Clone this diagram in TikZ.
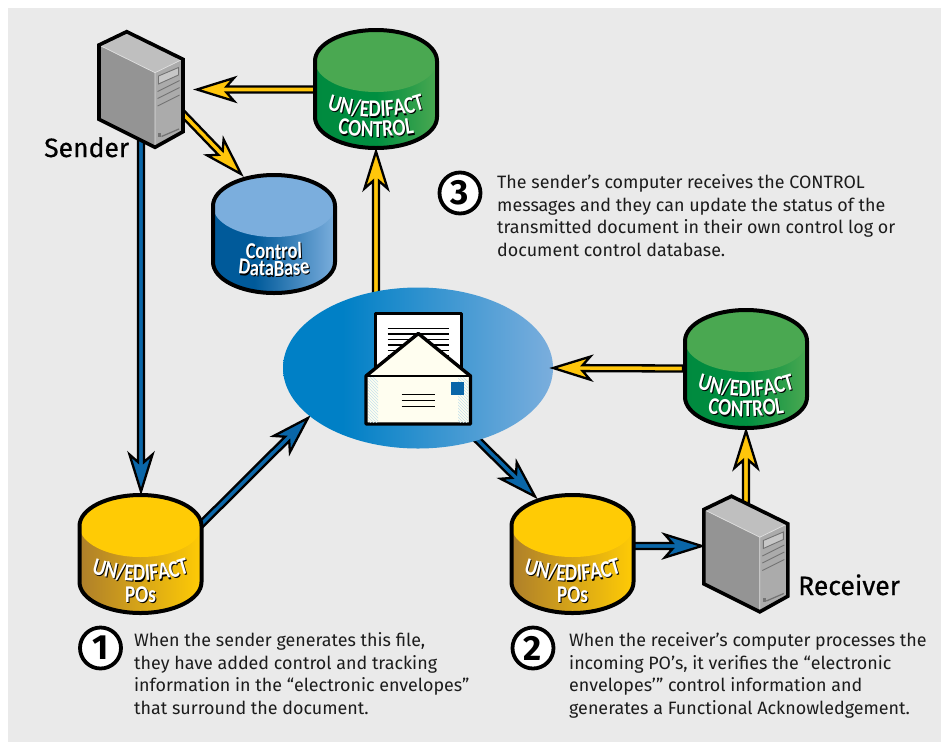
\documentclass[tikz,border=0pt]{standalone}
\usepackage{fontspec}
\setmainfont{Fira Sans}
\newfontfamily\lab{Carlito}[BoldFont={Carlito Bold},FakeStretch=0.8]
\newfontfamily\namefont{Fira Sans}[FakeBold=0.6]
\usetikzlibrary{calc,shapes.geometric,decorations.text}
\definecolor{bggrey}{HTML}{EAEAEA}
\definecolor{arrY}{HTML}{FFC60B}
\definecolor{arrB}{HTML}{0A66A8}
\definecolor{topY}{HTML}{FFCB05}
\definecolor{topG}{HTML}{4AA851}
\definecolor{topB}{HTML}{7BAEDD}
\definecolor{txtk}{HTML}{1C1C1C}
\definecolor{yl}{HTML}{AE7F2A}\definecolor{gl}{HTML}{008A3F}\definecolor{bl}{HTML}{005A9A}
\definecolor{el}{HTML}{0080C6}\definecolor{gm}{HTML}{008F40}
\pgfdeclarehorizontalshading{shY}{100bp}{color(0bp)=(yl);color(25bp)=(yl);color(75bp)=(topY);color(100bp)=(topY)}
\pgfdeclarehorizontalshading{shG}{100bp}{color(0bp)=(gl);color(25bp)=(gl);color(50bp)=(gm);color(75bp)=(topG);color(100bp)=(topG)}
\pgfdeclarehorizontalshading{shB}{100bp}{color(0bp)=(bl);color(25bp)=(bl);color(42bp)=(bl);color(75bp)=(topB);color(100bp)=(topB)}
\pgfdeclarehorizontalshading{shE}{100bp}{color(0bp)=(el);color(25bp)=(el);color(36bp)=(el);color(75bp)=(topB);color(100bp)=(topB)}
\tikzset{
  anchorbox/.style={rectangle,inner sep=0pt,outer sep=0pt,minimum width=#1},
  bodytext/.style={anchor=base west,align=left,inner sep=0pt,text=txtk,font=\fontsize{17.9}{22.5}\selectfont},
  nameplate/.style={anchor=base west,inner sep=0pt,text=black,font=\fontsize{26.5}{28}\namefont},
  numdisc/.style={circle,draw=black,fill=white,line width=3.8pt,minimum size=41pt,inner sep=0pt,font=\fontsize{35}{35}\selectfont\bfseries},
  ptrline/.style={draw=black,line width=2.3pt,line join=miter,miter limit=10}
}
% arrow #1 -> #2 filled #3
\newcommand{\ptr}[3]{%
  \coordinate (pf) at #1; \coordinate (pt) at #2;
  \coordinate (pu) at ($(pt)!29.5pt!(pf)$);
  \coordinate (pv) at ($(pt)!37pt!(pf)$);
  \draw[ptrline,fill=#3] ($(pf)!3pt!90:(pt)$) -- ($(pu)!3pt!-90:(pf)$) -- ($(pv)!11.5pt!-90:(pf)$) -- (pt)
     -- ($(pv)!11.5pt!90:(pf)$) -- ($(pu)!3pt!90:(pf)$) -- ($(pf)!3pt!-90:(pt)$) -- cycle;
}
% cylinder: cx, top, body shading, top colour
\newcommand{\dbcylb}[4]{%
  \path[shading=#3] ({#1-61},{#2+33}) -- ({#1-61},{#2+89}) arc[start angle=180,end angle=0,x radius=61,y radius=31]
      -- ({#1+61},{#2+33}) arc[start angle=0,end angle=-180,x radius=61,y radius=31];
  \fill[#4] ({#1},{#2+33}) ellipse[x radius=61,y radius=31];
  \draw[black,line width=4pt] ({#1-61},{#2+33}) -- ({#1-61},{#2+89}) arc[start angle=180,end angle=0,x radius=61,y radius=31]
      -- ({#1+61},{#2+33}) arc[start angle=0,end angle=-180,x radius=61,y radius=31] -- cycle;
}
% arched label: cx, y of middle of baseline, sag, font size, text
\newcommand{\arclab}[5]{%
  \path[decorate,decoration={text along path,text align=center,
     text={|\fontsize{#4}{#4}\lab\bfseries\color{black}|#5}}]
     ({#1-59},{#2-#3+1.2}) .. controls ({#1-20},{#2-#3+#3*4/3+1.2}) and ({#1+20},{#2-#3+#3*4/3+1.2}) .. ({#1+61},{#2-#3+1.2});
  \path[decorate,decoration={text along path,text align=center,
     text={|\fontsize{#4}{#4}\lab\bfseries\color{white}|#5}}]
     ({#1-60},{#2-#3}) .. controls ({#1-20},{#2-#3+#3*4/3}) and ({#1+20},{#2-#3+#3*4/3}) .. ({#1+60},{#2-#3});
}
% server drawn at offset
\newcommand{\srvbox}[2]{%
\begin{scope}[shift={(#1,#2)}]
  \fill[black!42] (99,45) -- (155,72.7) -- (155,147.3) -- (99,119.3) -- cycle;
  \fill[black!33] (155,72.7) -- (183,59.3) -- (183,131.7) -- (155,147.3) -- cycle;
  \fill[black!25] (99,45) -- (126.7,31.7) -- (183,59.3) -- (155,72.7) -- cycle;
  \draw[white!75!gray,line width=.7pt] (101,46) -- (155,72.7) -- (181,60) (155,72.7) -- (155,146);
  \draw[black!55,line width=.9pt,fill=black!22] (158.5,76) -- (178.5,67.5) -- (178.5,75) -- (158.5,84) -- cycle;
  \draw[black!55,line width=.9pt] (157.5,91.5) -- (179.5,80.5) (157.5,98.5) -- (179.5,87.5) (157.5,106) -- (179.5,95);
  \fill[black!55] (158,133) rectangle (161,137);
  \draw[black!55,line width=1.3pt] (161.5,136.5) -- (179,129);
  \draw[black,line width=3.6pt,line join=miter] (126.7,31.7) -- (183,59.3) -- (183,131.7) -- (155,147.3) -- (99,119.3) -- (99,45) -- cycle;
\end{scope}}
\begin{document}
\begin{tikzpicture}[x=1pt,y=-1pt]
\useasboundingbox (0,0) rectangle (941,742);
\fill[white] (0,0) rectangle (941,742);
\node[anchorbox=933pt,minimum height=734pt,fill=bggrey] (panel) at (474.5,375) {};

% invisible anchors
\node[anchorbox=84pt,minimum height=116pt] (sender) at (141,89.5) {};
\node[anchorbox=85pt,minimum height=116pt] (recv) at (745.8,554) {};
\node[anchorbox=126pt,minimum height=122pt] (ctrlA) at (376,89) {};
\node[anchorbox=126pt,minimum height=122pt] (ctrlB) at (746,368.5) {};
\node[anchorbox=126pt,minimum height=122pt] (dbase) at (274,233) {};
\node[anchorbox=126pt,minimum height=122pt] (poA) at (140.5,553.5) {};
\node[anchorbox=126pt,minimum height=122pt] (poB) at (572.5,553.5) {};
\coordinate (envc) at (418,368);

% connectors that start underneath shapes
\ptr{(sender.center)}{($(poA.north)+(0.5,-1)$)}{arrB}
\ptr{($(sender.east)+(-8,16)$)}{($(dbase.north)+(-33,2)$)}{arrY}
\ptr{(ctrlA.south |- envc)}{($(ctrlA.south)+(0,1.5)$)}{arrY}
\ptr{(recv.center)}{($(ctrlB.south)+(0,1.5)$)}{arrY}
\ptr{($(envc)+(52,64.5)$)}{($(poB.north)+(-37.5,4)$)}{arrB}
\ptr{($(poA.east)+(-11,-20.5)$)}{($(envc)+(-110,50)$)}{arrB}

% central ellipse
\node[ellipse,minimum width=270pt,minimum height=161pt,inner sep=0pt,shading=shE] (env) at (envc) {};
\ptr{(ctrlB.west)}{(env.east)}{arrY}

% envelope
\draw[black,line width=3.4pt,fill=white,line join=round] (375.5,370) -- (375.5,313.5) -- (461.5,313.5) -- (461.5,370);
\foreach \yy in {328.5,334,339.5,345,350.5,356} \draw[black,line width=1.1pt] (387.5,\yy) -- (449,\yy);
\draw[black,line width=3.4pt,fill=yellow!6!white,line join=round] (366,376) -- (418.3,333.5) -- (470.5,376) -- (470.5,424) -- (366,424) -- cycle;
\begin{scope}
  \clip (368,377) rectangle (378,422);
  \foreach \k in {0,3,...,60} \draw[black!30!cyan!25!white,line width=.4pt] (366,{370+\k}) -- (380,{384+\k});
\end{scope}
\begin{scope}
  \clip (458,377) rectangle (468.5,422);
  \foreach \k in {0,3,...,60} \draw[black!30!cyan!25!white,line width=.4pt] (456,{370+\k}) -- (470,{384+\k});
\end{scope}
\draw[black,line width=1.2pt] (367,376) -- (470,376);
\foreach \yy in {394.5,400.5,406.3} \draw[black,line width=1.2pt] (401.5,\yy) -- (435,\yy);
\fill[arrB] (451,382) rectangle (464,395);

% connectors leaving cylinders
\ptr{(ctrlA.center |- sender.east)}{($(sender.east)+(14,0)$)}{arrY}
\ptr{($(poB.center)+(0,-7.5)$)}{($(recv.west)+(-1.5,-8)$)}{arrB}

% cylinders
\dbcylb{376}{28}{shG}{topG}
\dbcylb{274}{173}{shB}{topB}
\dbcylb{746}{308}{shG}{topG}
\dbcylb{140.5}{493}{shY}{topY}
\dbcylb{572.5}{493}{shY}{topY}

\arclab{376}{117}{12}{24}{UN/EDIFACT}
\arclab{376}{137}{8}{24}{CONTROL}
\arclab{746}{396.5}{12}{24}{UN/EDIFACT}
\arclab{746}{416.5}{8}{24}{CONTROL}
\arclab{140.5}{581}{12}{24}{UN/EDIFACT}
\arclab{140.5}{602}{0}{24}{POs}
\arclab{572.5}{581}{12}{24}{UN/EDIFACT}
\arclab{572.5}{602}{0}{24}{POs}
\arclab{274}{259}{3}{23}{Control}
\arclab{274}{276}{6}{23}{DataBase}

% servers
\srvbox{0}{0}
\srvbox{604.8}{464.5}

% labels
\node[nameplate] (lblS) at (44,157) {Sender};
\node[nameplate] (lblR) at (798,595) {Receiver};
\node[numdisc] (n3) at (460,193) {3};
\node[numdisc] (n1) at (100.5,648) {1};
\node[numdisc] (n2) at (533,648) {2};
\node[bodytext] (t3) at (497,256) {The sender’s computer receives the CONTROL\\messages and they can update the status of the\\transmitted document in their own control log or\\document control database.};
\node[bodytext] (t1) at (134,714) {When the sender generates this file,\\they have added control and tracking\\information in the “electronic envelopes”\\that surround the document.};
\node[bodytext] (t2) at (569,714) {When the receiver’s computer processes the\\incoming PO’s, it verifies the “electronic\\envelopes’” control information and\\generates a Functional Acknowledgement.};
\end{tikzpicture}
\end{document}
